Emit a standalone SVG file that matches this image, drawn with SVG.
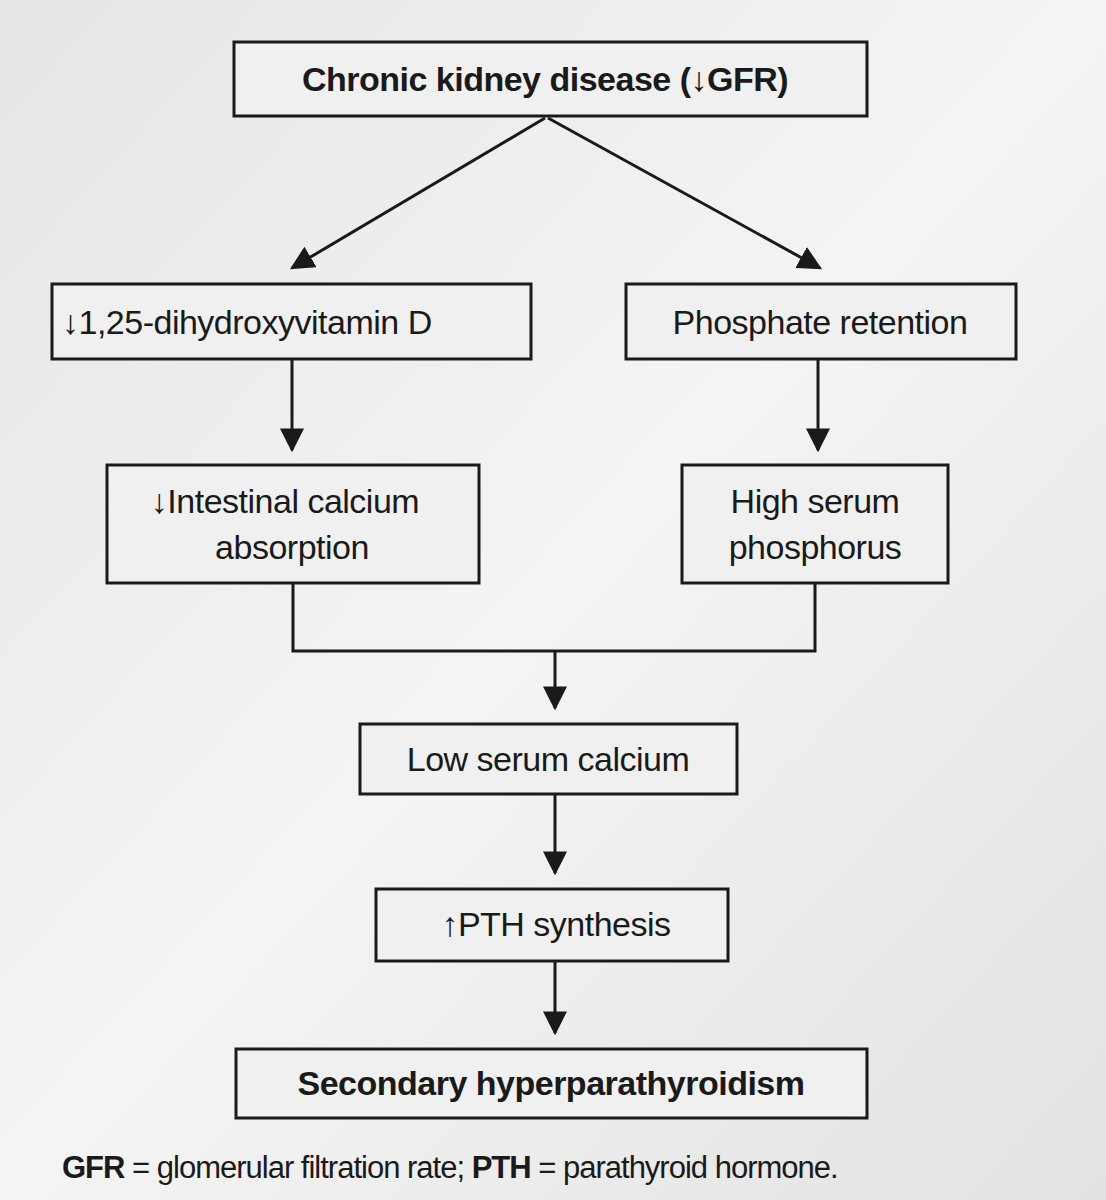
<svg xmlns="http://www.w3.org/2000/svg" width="1106" height="1200" viewBox="0 0 1106 1200">
<defs>
<linearGradient id="bg" x1="0" y1="0" x2="1" y2="1"><stop offset="0" stop-color="#e6e6e6"/><stop offset="0.5" stop-color="#f4f4f4"/><stop offset="1" stop-color="#e2e2e2"/></linearGradient>
<marker id="a" viewBox="0 0 10 10" refX="9" refY="5" markerWidth="8" markerHeight="8" orient="auto"><path d="M0,0 L10,5 L0,10 z" fill="#1a1a1a"/></marker>
</defs>
<style>
rect.b{fill:#f0f0f0;stroke:#1a1a1a;stroke-width:3}
text{font-family:"Liberation Sans",Arial,sans-serif;fill:#1a1a1a;font-size:34px;letter-spacing:-0.5px}
text.ft{font-size:31px;letter-spacing:-1px}
.bd{font-weight:bold}
.c line,.c path{stroke:#1a1a1a;stroke-width:3;fill:none}
</style>
<rect width="1106" height="1200" fill="url(#bg)"/>
<g class="c">
<line x1="545" y1="118" x2="292" y2="268" marker-end="url(#a)"/>
<line x1="548" y1="118" x2="820" y2="268" marker-end="url(#a)"/>
<line x1="292" y1="359" x2="292" y2="450" marker-end="url(#a)"/>
<line x1="818" y1="359" x2="818" y2="450" marker-end="url(#a)"/>
<path d="M293,583 V651 H815 V583"/>
<line x1="555" y1="651" x2="555" y2="708" marker-end="url(#a)"/>
<line x1="555" y1="794" x2="555" y2="873" marker-end="url(#a)"/>
<line x1="555" y1="961" x2="555" y2="1033" marker-end="url(#a)"/>
</g>
<g id="ckd"><rect class="b" x="234" y="42" width="633" height="74"/><text class="bd" x="545" y="91" text-anchor="middle">Chronic kidney disease (↓GFR)</text></g>
<g id="vitd"><rect class="b" x="52" y="284" width="479" height="75"/><text x="62" y="334">↓1,25-dihydroxyvitamin D</text></g>
<g id="phos"><rect class="b" x="626" y="284" width="390" height="75"/><text x="820" y="334" text-anchor="middle">Phosphate retention</text></g>
<g id="intest"><rect class="b" x="107" y="465" width="372" height="118"/><text x="285" y="513" text-anchor="middle">↓Intestinal  calcium</text><text x="292" y="559" text-anchor="middle">absorption</text></g>
<g id="high"><rect class="b" x="682" y="465" width="266" height="118"/><text x="815" y="513" text-anchor="middle">High serum</text><text x="815" y="559" text-anchor="middle">phosphorus</text></g>
<g id="low"><rect class="b" x="360" y="724" width="377" height="70"/><text x="548" y="771" text-anchor="middle">Low serum calcium</text></g>
<g id="pth"><rect class="b" x="376" y="889" width="352" height="72"/><text x="556" y="936" text-anchor="middle">↑PTH synthesis</text></g>
<g id="sec"><rect class="b" x="236" y="1049" width="631" height="69"/><text class="bd" x="551" y="1095" text-anchor="middle">Secondary hyperparathyroidism</text></g>
<text class="ft" x="62" y="1178"><tspan class="bd">GFR</tspan> = glomerular filtration rate; <tspan class="bd">PTH</tspan> = parathyroid hormone.</text>
</svg>
